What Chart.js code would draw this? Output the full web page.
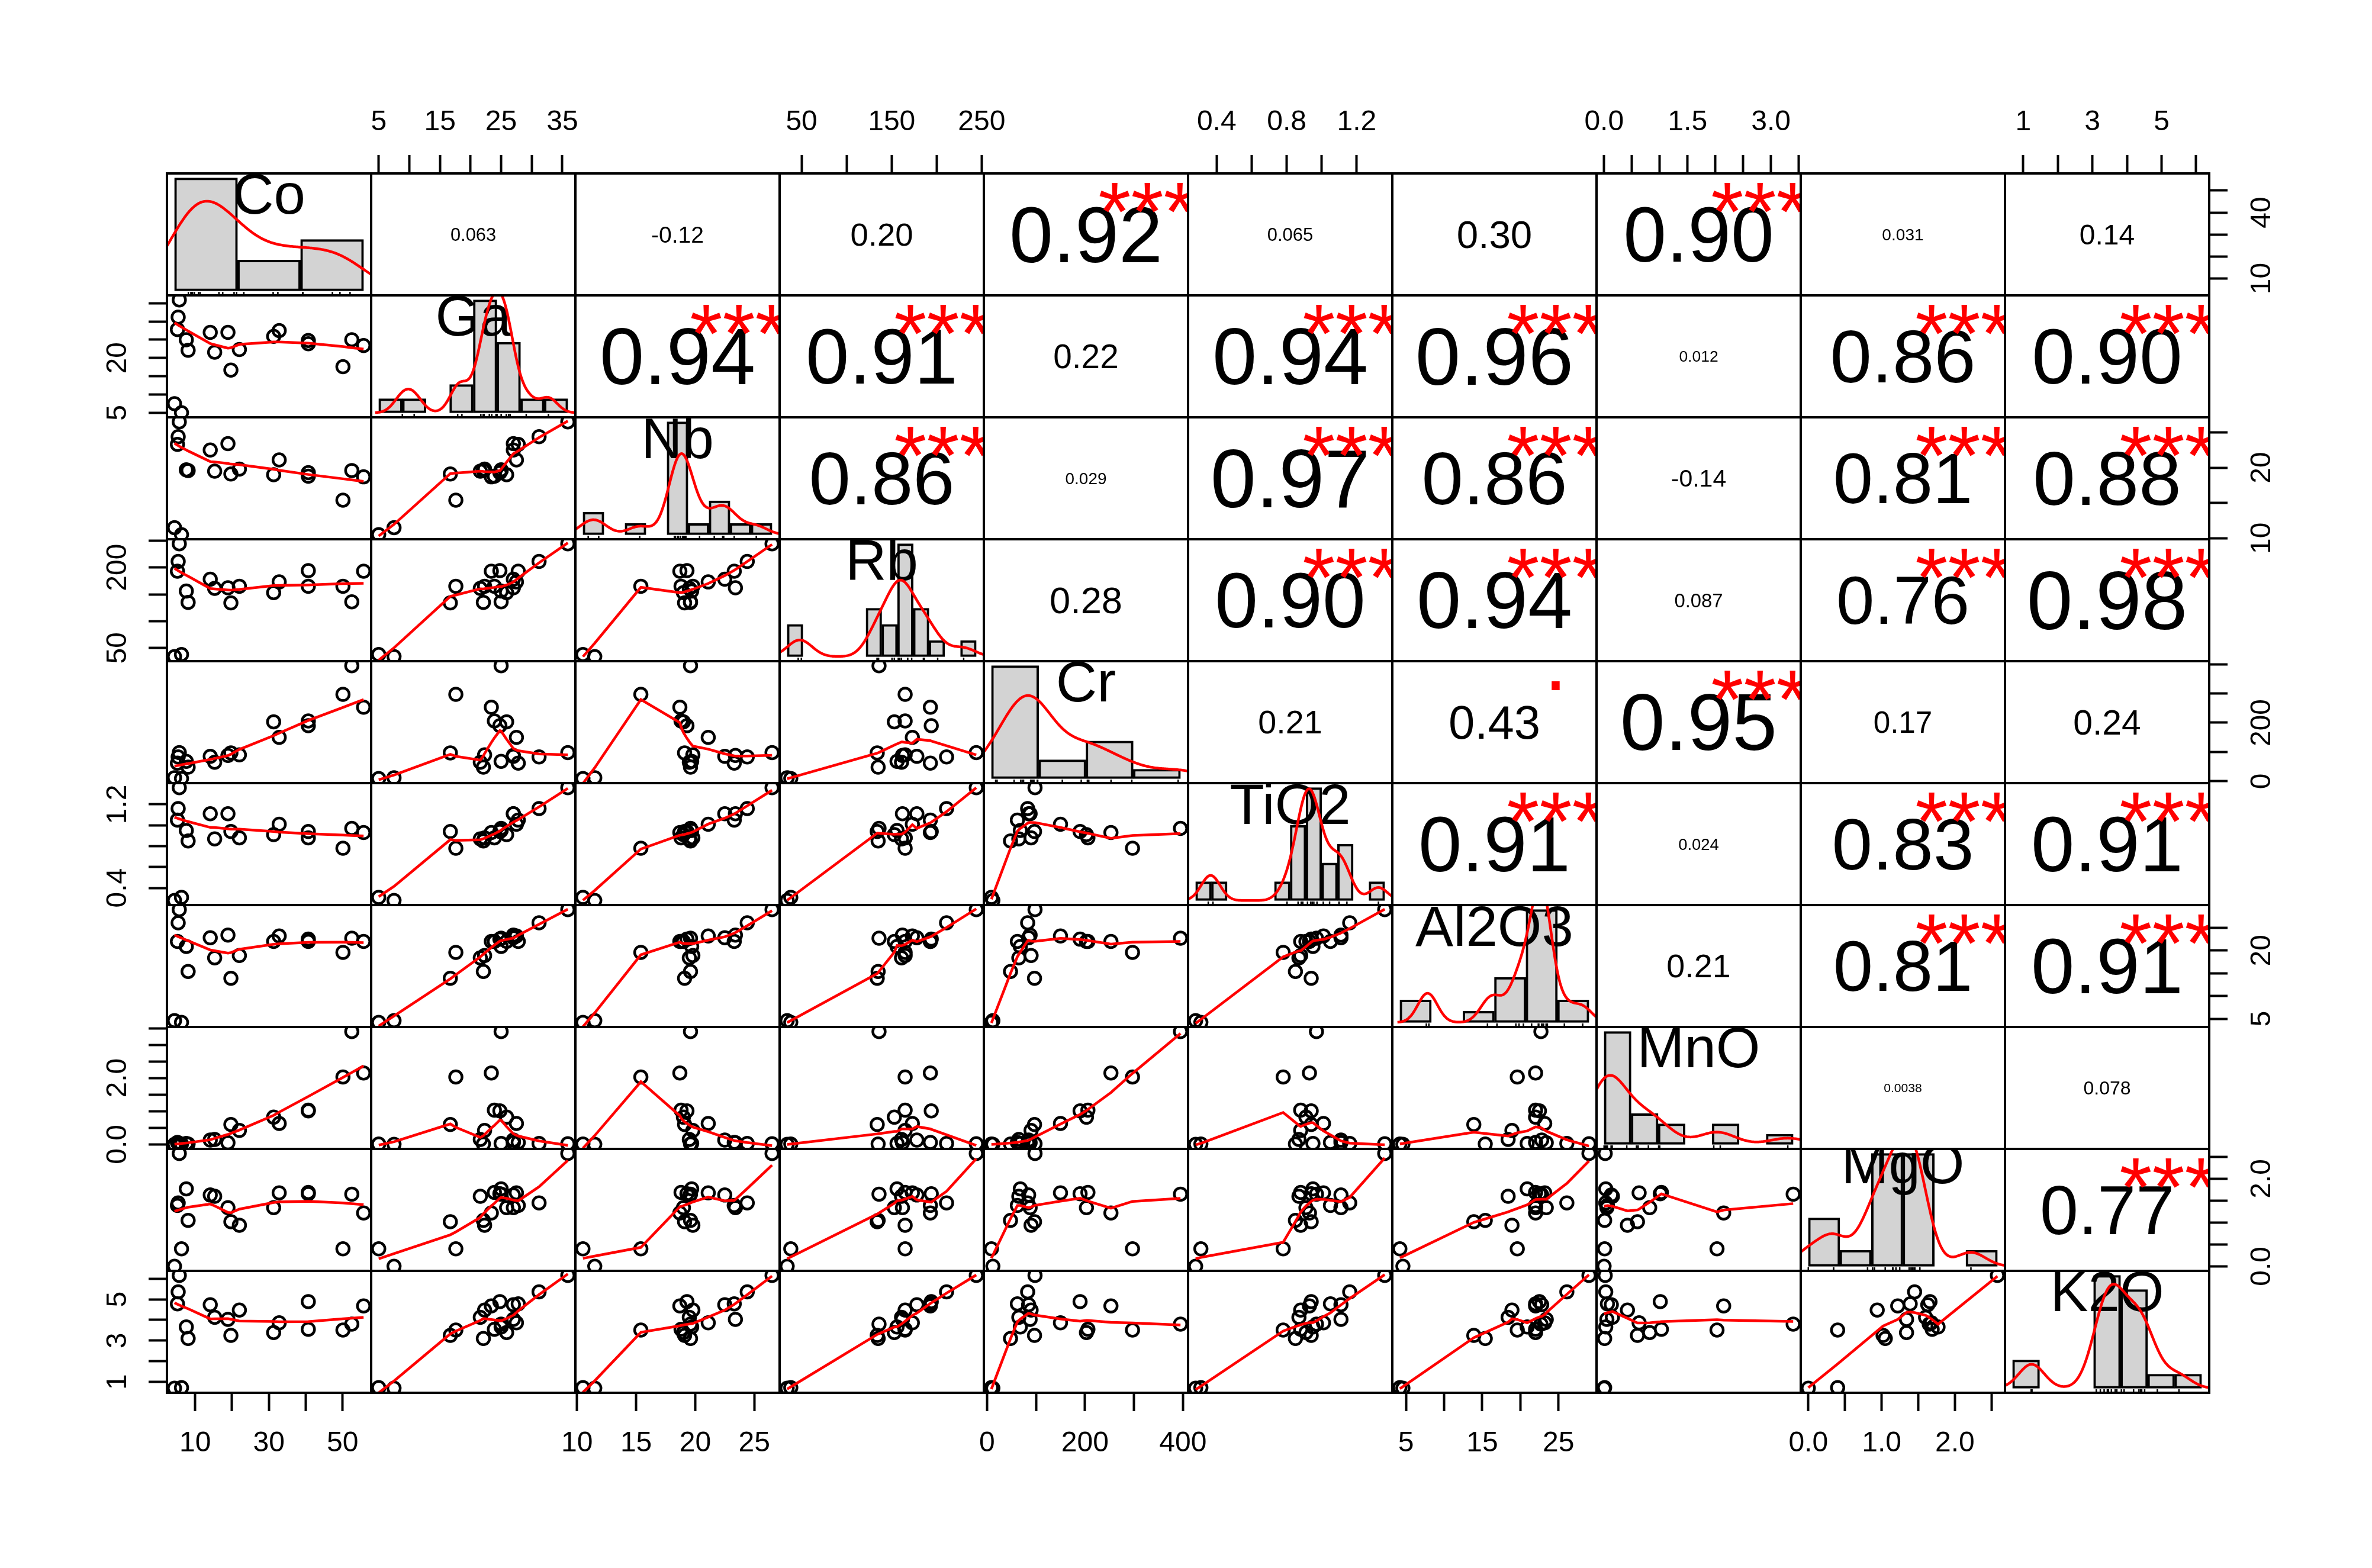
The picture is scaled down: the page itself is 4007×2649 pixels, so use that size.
<!DOCTYPE html>
<html>
<head>
<meta charset="utf-8">
<script src="https://cdn.jsdelivr.net/npm/chart.js@4.4.1/dist/chart.umd.min.js"></script>
<style>
  html, body { margin: 0; padding: 0; background: #fff; }
  #wrap { position: relative; width: 4007px; height: 2649px; overflow: hidden; background: #fff; }
  #wrap canvas { position: absolute; }
</style>
</head>
<body>
<div id="wrap"></div>
<script>
const varNames = ["Co", "Ga", "Nb", "Rb", "Cr", "TiO2", "Al2O3", "MnO", "MgO", "K2O"];

// 19 samples
const co    = [5.7, 5.4, 5.2, 7.6, 8.1, 14.1, 15.3, 18.9, 19.7, 22.0, 31.3, 32.8, 40.7, 40.7, 50.1, 52.5, 55.7, 4.4, 6.3];
const ga    = [35.9, 31.2, 27.8, 25.0, 22.1, 27.0, 21.6, 27.0, 16.7, 22.3, 25.9, 27.5, 24.8, 23.9, 17.6, 25.0, 23.4, 7.5, 5.0];
const nb    = [26.5, 24.4, 23.3, 19.7, 19.6, 22.5, 19.5, 23.4, 19.1, 19.8, 19.0, 21.1, 19.3, 18.8, 15.4, 19.6, 18.7, 11.5, 10.5];
const rb    = [244, 211, 193, 156, 135, 178, 161, 162, 134, 165, 153, 173, 194, 165, 165, 136, 193, 34, 38];
const cr    = [98, 83, 62, 68, 48, 85, 65, 88, 97, 90, 203, 150, 190, 206, 297, 395, 253, 12, 9];
const tio2  = [1.36, 1.16, 1.05, 0.95, 0.85, 1.11, 0.87, 1.11, 0.94, 0.88, 0.91, 1.01, 0.94, 0.88, 0.78, 0.97, 0.93, 0.28, 0.31];
const al2o3 = [29.0, 26.1, 22.0, 20.9, 15.4, 22.8, 18.4, 23.4, 13.9, 18.9, 22.0, 23.2, 22.5, 22.0, 19.6, 22.7, 22.0, 4.6, 4.2];
const mno   = [0.02, 0.03, 0.06, 0.03, 0.01, 0.13, 0.15, 0.05, 0.60, 0.42, 0.82, 0.63, 1.01, 1.03, 2.03, 3.40, 2.15, 0.00, 0.01];
const mgo   = [2.58, 1.45, 1.39, 1.77, 1.05, 1.63, 1.60, 1.34, 1.02, 0.94, 1.34, 1.68, 1.66, 1.69, 0.40, 1.65, 1.22, 0.00, 0.40];
const k2o   = [6.16, 5.36, 4.78, 3.66, 3.10, 4.74, 4.13, 4.03, 3.25, 4.48, 3.39, 3.86, 4.89, 3.55, 3.51, 3.80, 4.68, 0.69, 0.72];

// histogram breaks on the diagonal
const coBreaks    = [0, 20, 40, 60];
const gaBreaks    = [0, 5, 10, 15, 20, 25, 30, 35, 40];
const nbBreaks    = [10, 12, 14, 16, 18, 20, 22, 24, 26, 28];
const rbBreaks    = [20, 40, 60, 80, 100, 120, 140, 160, 180, 200, 220, 240, 260];
const crBreaks    = [0, 100, 200, 300, 400];
const tio2Breaks  = [0.2, 0.3, 0.4, 0.5, 0.6, 0.7, 0.8, 0.9, 1.0, 1.1, 1.2, 1.3, 1.4];
const al2o3Breaks = [0, 5, 10, 15, 20, 25, 30];
const mnoBreaks   = [0, 0.5, 1.0, 1.5, 2.0, 2.5, 3.0, 3.5];
const mgoBreaks   = [0, 0.5, 1.0, 1.5, 2.0, 2.5, 3.0];
const k2oBreaks   = [0, 1, 2, 3, 4, 5, 6, 7];

// axis ticks, and the labels R kept on horizontal / vertical axes
const coTicks    = [10, 20, 30, 40, 50];
const gaTicks    = [5, 10, 15, 20, 25, 30, 35];
const nbTicks    = [10, 15, 20, 25];
const rbTicks    = [50, 100, 150, 200, 250];
const crTicks    = [0, 100, 200, 300, 400];
const tio2Ticks  = [0.4, 0.6, 0.8, 1.0, 1.2];
const al2o3Ticks = [5, 10, 15, 20, 25];
const mnoTicks   = [0, 0.5, 1, 1.5, 2, 2.5, 3, 3.5];
const mgoTicks   = [0, 0.5, 1, 1.5, 2, 2.5];
const k2oTicks   = [1, 2, 3, 4, 5, 6];

const coLabH = ["10", "30", "50"],     coLabV = ["10", "40"];
const gaLabH = ["5", "15", "25", "35"], gaLabV = ["5", "20"];
const nbLabH = ["10", "15", "20", "25"], nbLabV = ["10", "20"];
const rbLabH = ["50", "150", "250"],   rbLabV = ["50", "200"];
const crLabH = ["0", "200", "400"],    crLabV = ["0", "200"];
const tio2LabH = ["0.4", "0.8", "1.2"], tio2LabV = ["0.4", "1.2"];
const al2o3LabH = ["5", "15", "25"],   al2o3LabV = ["5", "20"];
const mnoLabH = ["0.0", "1.5", "3.0"], mnoLabV = ["0.0", "2.0"];
const mgoLabH = ["0.0", "1.0", "2.0"], mgoLabV = ["0.0", "2.0"];
const k2oLabH = ["1", "3", "5"],       k2oLabV = ["1", "3", "5"];

// upper panels, row by row
const corrCo    = ["0.063", "-0.12", "0.20", "0.92", "0.065", "0.30", "0.90", "0.031", "0.14"];
const starsCo   = ["", "", "", "***", "", "", "***", "", ""];
const corrGa    = ["0.94", "0.91", "0.22", "0.94", "0.96", "0.012", "0.86", "0.90"];
const starsGa   = ["***", "***", "", "***", "***", "", "***", "***"];
const corrNb    = ["0.86", "0.029", "0.97", "0.86", "-0.14", "0.81", "0.88"];
const starsNb   = ["***", "", "***", "***", "", "***", "***"];
const corrRb    = ["0.28", "0.90", "0.94", "0.087", "0.76", "0.98"];
const starsRb   = ["", "***", "***", "", "***", "***"];
const corrCr    = ["0.21", "0.43", "0.95", "0.17", "0.24"];
const starsCr   = ["", ".", "***", "", ""];
const corrTiO2  = ["0.91", "0.024", "0.83", "0.91"];
const starsTiO2 = ["***", "", "***", "***"];
const corrAl2O3 = ["0.21", "0.81", "0.91"];
const starsAl2O3 = ["", "***", "***"];
const corrMnO   = ["0.0038", "0.078"];
const starsMnO  = ["", ""];
const corrMgO   = ["0.77"];
const starsMgO  = ["***"];

const vars = [co, ga, nb, rb, cr, tio2, al2o3, mno, mgo, k2o];
const breaks = [coBreaks, gaBreaks, nbBreaks, rbBreaks, crBreaks, tio2Breaks, al2o3Breaks, mnoBreaks, mgoBreaks, k2oBreaks];
const ticks = [coTicks, gaTicks, nbTicks, rbTicks, crTicks, tio2Ticks, al2o3Ticks, mnoTicks, mgoTicks, k2oTicks];
const labH = [coLabH, gaLabH, nbLabH, rbLabH, crLabH, tio2LabH, al2o3LabH, mnoLabH, mgoLabH, k2oLabH];
const labV = [coLabV, gaLabV, nbLabV, rbLabV, crLabV, tio2LabV, al2o3LabV, mnoLabV, mgoLabV, k2oLabV];
const corrRows = [corrCo, corrGa, corrNb, corrRb, corrCr, corrTiO2, corrAl2O3, corrMnO, corrMgO];
const starRows = [starsCo, starsGa, starsNb, starsRb, starsCr, starsTiO2, starsAl2O3, starsMnO, starsMgO];

const FONT = "'Liberation Sans', Arial, Helvetica, sans-serif";
const GX = 282, GY = 293, CW = 345, CH = 206;
const AX = 150, BL = 12, SIDE = 90, TL = 31, LW = 4, LAB_OFF = 86;

// R pads each axis by 4% of the data range
const lo = [], hi = [];
vars.forEach((v, k) => {
    const mn = Math.min(...v), mx = Math.max(...v), d = mx - mn;
    lo[k] = mn - 0.04 * d;
    hi[k] = mx + 0.04 * d;
});

const mctx = document.createElement("canvas").getContext("2d");
mctx.font = "48px " + FONT;
const maxNameW = Math.max(...varNames.map(s => mctx.measureText(s).width));
const namePx = 48 * Math.max(0.8, Math.min(2, 0.9 * CW / maxNameW));

function lowess(xs, ys, f, iter) {
    const n = xs.length;
    const ord = xs.map((v, i) => i).sort((a, b) => xs[a] - xs[b]);
    const x = ord.map(i => xs[i]), y = ord.map(i => ys[i]);
    const ns = Math.max(2, Math.min(n, Math.floor(f * n + 1e-7)));
    const range = x[n - 1] - x[0];
    const delta = 0.01 * range;
    const fit = new Array(n).fill(0), rw = new Array(n).fill(1), res = new Array(n).fill(0), w = new Array(n).fill(0);

    function lowest(xs0, nleft, nright, userw) {
        const h = Math.max(xs0 - x[nleft], x[nright] - xs0);
        const h9 = 0.999 * h, h1 = 0.001 * h;
        let a = 0, j = nleft;
        while (j < n) {
            w[j] = 0;
            const r = Math.abs(x[j] - xs0);
            if (r <= h9) {
                w[j] = r <= h1 ? 1 : Math.pow(1 - Math.pow(r / h, 3), 3);
                if (userw) w[j] *= rw[j];
                a += w[j];
            } else if (x[j] > xs0) break;
            j++;
        }
        const nrt = j - 1;
        if (a <= 0) return null;
        for (j = nleft; j <= nrt; j++) w[j] /= a;
        if (h > 0) {
            a = 0;
            for (j = nleft; j <= nrt; j++) a += w[j] * x[j];
            let b = xs0 - a, c = 0;
            for (j = nleft; j <= nrt; j++) c += w[j] * (x[j] - a) * (x[j] - a);
            if (Math.sqrt(c) > 0.001 * range) {
                b /= c;
                for (j = nleft; j <= nrt; j++) w[j] *= (b * (x[j] - a) + 1);
            }
        }
        let s = 0;
        for (j = nleft; j <= nrt; j++) s += w[j] * y[j];
        return s;
    }

    for (let it = 1; it <= iter + 1; it++) {
        let nleft = 0, nright = ns - 1, last = -1, i = 0;
        for (;;) {
            if (nright < n - 1) {
                const d1 = x[i] - x[nleft], d2 = x[nright + 1] - x[i];
                if (d1 > d2) { nleft++; nright++; continue; }
            }
            const v = lowest(x[i], nleft, nright, it > 1);
            fit[i] = v === null ? y[i] : v;
            if (last < i - 1) {
                const denom = x[i] - x[last];
                for (let j = last + 1; j < i; j++) {
                    const al = (x[j] - x[last]) / denom;
                    fit[j] = al * fit[i] + (1 - al) * fit[last];
                }
            }
            last = i;
            const cut = x[last] + delta;
            for (i = last + 1; i < n; i++) {
                if (x[i] > cut) break;
                if (x[i] === x[last]) { fit[i] = fit[last]; last = i; }
            }
            i = Math.max(last + 1, i - 1);
            if (last >= n - 1) break;
        }
        for (let k = 0; k < n; k++) res[k] = y[k] - fit[k];
        if (it > iter) break;
        const sc = res.reduce((s, r) => s + Math.abs(r), 0) / n;
        const ar = res.map(Math.abs).sort((p, q) => p - q);
        const m1 = Math.floor(n / 2);
        const cmad = n % 2 === 0 ? 3 * (ar[m1] + ar[m1 - 1]) : 6 * ar[m1];
        if (cmad < 1e-7 * sc) break;
        const c9 = 0.999 * cmad, c1 = 0.001 * cmad;
        for (let k = 0; k < n; k++) {
            const r = Math.abs(res[k]);
            rw[k] = r <= c1 ? 1 : r > c9 ? 0 : Math.pow(1 - (r / cmad) * (r / cmad), 2);
        }
    }
    return x.map((v, k) => ({ x: v, y: fit[k] }));
}

function densityCurve(v) {
    const n = v.length, s = v.slice().sort((a, b) => a - b);
    const mean = s.reduce((a, b) => a + b, 0) / n;
    const sd = Math.sqrt(s.reduce((a, b) => a + (b - mean) * (b - mean), 0) / (n - 1));
    const q = p => { const h = (n - 1) * p, f = Math.floor(h); return s[f] + (h - f) * (s[Math.min(f + 1, n - 1)] - s[f]); };
    let l = Math.min(sd, (q(0.75) - q(0.25)) / 1.34);
    if (!l) l = sd || Math.abs(s[0]) || 1;
    const bw = 0.9 * l * Math.pow(n, -0.2);
    const a = s[0] - 3 * bw, b = s[n - 1] + 3 * bw, out = [];
    for (let k = 0; k < 300; k++) {
        const xv = a + (b - a) * k / 299;
        let d = 0;
        for (const xi of s) d += Math.exp(-0.5 * ((xv - xi) / bw) * ((xv - xi) / bw));
        out.push({ x: xv, y: d / (n * bw * Math.sqrt(2 * Math.PI)) });
    }
    return out;
}

function histogram(v, br) {
    const counts = new Array(br.length - 1).fill(0);
    v.forEach(x => {
        for (let k = 0; k < br.length - 1; k++) {
            const inLow = k === 0 ? x >= br[0] - 1e-9 : x > br[k] + 1e-9;
            if (inLow && x <= br[k + 1] + 1e-9) { counts[k]++; break; }
        }
    });
    return counts.map((c, k) => ({ x: (br[k] + br[k + 1]) / 2, y: c / (v.length * (br[k + 1] - br[k])) }));
}

function labelFor(list, value) {
    const s = list.find(l => Math.abs(parseFloat(l) - value) < 1e-9);
    return s === undefined ? "" : s;
}

function tickGrid() {
    return { drawOnChartArea: false, drawTicks: true, tickLength: TL, tickWidth: LW, tickColor: "#000" };
}

function hAxis(k, pos) {
    const o = { type: "linear", min: lo[k], max: hi[k], display: !!pos };
    if (!pos) return o;
    return Object.assign(o, {
        position: pos,
        afterBuildTicks: s => { s.ticks = ticks[k].map(t => ({ value: t })); },
        afterFit: s => { s.height = AX; s.paddingLeft = 0; s.paddingRight = 0; },
        grid: tickGrid(),
        border: { display: false },
        ticks: {
            autoSkip: false, maxRotation: 0, minRotation: 0, padding: 26, color: "#000",
            font: { family: FONT, size: 48 },
            callback: value => labelFor(labH[k], value)
        }
    });
}

function vAxis(k, pos) {
    const o = { type: "linear", min: lo[k], max: hi[k], display: !!pos };
    if (!pos) return o;
    return Object.assign(o, {
        position: pos,
        afterBuildTicks: s => { s.ticks = ticks[k].map(t => ({ value: t })); },
        afterFit: s => { s.width = AX; s.paddingTop = 0; s.paddingBottom = 0; },
        grid: tickGrid(),
        border: { display: false },
        ticks: { display: false }
    });
}

function inkText(ctx, s, cx, cy, size, color) {
    ctx.font = size + "px " + FONT;
    ctx.fillStyle = color;
    ctx.textAlign = "center";
    ctx.textBaseline = "alphabetic";
    const m = ctx.measureText(s);
    ctx.fillText(s, cx, cy + (m.actualBoundingBoxAscent - m.actualBoundingBoxDescent) / 2);
}

function clipArea(ctx, a) {
    ctx.beginPath();
    ctx.rect(a.left, a.top, a.right - a.left, a.bottom - a.top);
    ctx.clip();
}

function drawCorr(chart, txt, star) {
    const a = chart.chartArea, ctx = chart.ctx;
    const W = a.right - a.left, H = a.bottom - a.top;
    ctx.save();
    clipArea(ctx, a);
    ctx.font = "100px " + FONT;
    const w100 = ctx.measureText(txt).width;
    const emStar = 0.8 * W * 100 / w100;
    const r = Math.abs(parseFloat(txt));
    inkText(ctx, txt, a.left + 0.5 * W, a.bottom - 0.5 * H, emStar * (r + 0.3) / 1.3, "#000");
    if (star) inkText(ctx, star, a.left + 0.8 * W, a.bottom - 0.8 * H, emStar, "#ff0000");
    ctx.restore();
}

function drawName(chart, name) {
    const a = chart.chartArea, ctx = chart.ctx;
    ctx.save();
    clipArea(ctx, a);
    inkText(ctx, name, (a.left + a.right) / 2, a.bottom - 0.833 * (a.bottom - a.top), namePx, "#000");
    ctx.restore();
}

function drawVLabels(chart, k, side) {
    const a = chart.chartArea, ctx = chart.ctx, sc = chart.scales.y;
    ctx.save();
    ctx.font = "48px " + FONT;
    ctx.fillStyle = "#000";
    ctx.textAlign = "center";
    ctx.textBaseline = "alphabetic";
    labV[k].forEach(s => {
        const py = sc.getPixelForValue(parseFloat(s));
        const px = side === "left" ? a.left - LAB_OFF : a.right + LAB_OFF;
        const m = ctx.measureText(s);
        ctx.save();
        ctx.translate(px, py);
        ctx.rotate(-Math.PI / 2);
        ctx.fillText(s, 0, (m.actualBoundingBoxAscent - m.actualBoundingBoxDescent) / 2);
        ctx.restore();
    });
    ctx.restore();
}

function drawBox(chart) {
    const a = chart.chartArea, ctx = chart.ctx;
    ctx.save();
    ctx.lineWidth = LW;
    ctx.strokeStyle = "#000";
    ctx.strokeRect(a.left, a.top, a.right - a.left, a.bottom - a.top);
    ctx.restore();
}

const wrap = document.getElementById("wrap");

function makeCell(i, j) {
    const top = i === 0 && j % 2 === 1, bottom = i === 9 && j % 2 === 0;
    const left = j === 0 && i % 2 === 1, right = j === 9 && i % 2 === 0;
    // room for labels that hang past the panel ends
    const hb = (top || bottom) ? SIDE : BL, vb = (left || right) ? SIDE : BL;
    const bt = top ? AX : vb, bb = bottom ? AX : vb, bl = left ? AX : hb, br = right ? AX : hb;

    const cv = document.createElement("canvas");
    cv.width = CW + bl + br;
    cv.height = CH + bt + bb;
    cv.style.left = (GX + j * CW - bl) + "px";
    cv.style.top = (GY + i * CH - bt) + "px";
    wrap.appendChild(cv);

    const padding = { top: top ? 0 : bt, bottom: bottom ? 0 : bb, left: left ? 0 : bl, right: right ? 0 : br };
    const common = {
        responsive: false,
        animation: false,
        events: [],
        layout: { padding: padding, autoPadding: false },
        plugins: { legend: { display: false }, tooltip: { enabled: false } }
    };

    const plugin = {
        id: "panel",
        afterDatasetDraw(chart, args) {
            if (i === j && args.index === 2) drawName(chart, varNames[i]);
        },
        afterDraw(chart) {
            if (i < j) drawCorr(chart, corrRows[i][j - i - 1], starRows[i][j - i - 1]);
            if (left) drawVLabels(chart, i, "left");
            if (right) drawVLabels(chart, i, "right");
            drawBox(chart);
        }
    };

    if (i === j) {
        const v = vars[i], b = breaks[i];
        const hist = histogram(v, b);
        const maxD = Math.max(...hist.map(p => p.y));
        const span = b[b.length - 1] - b[0];
        const yMin = -0.04 * maxD;
        new Chart(cv, {
            type: "bar",
            data: {
                datasets: [
                    { type: "line", data: densityCurve(v), borderColor: "#ff0000", borderWidth: 4.5, pointRadius: 0, fill: false, tension: 0 },
                    { type: "scatter", data: v.map(x => ({ x: x, y: yMin })), pointStyle: "line", pointRotation: 90, pointRadius: 6, pointBorderWidth: 2.5, pointBorderColor: "#000" },
                    { type: "bar", data: hist, backgroundColor: "#d3d3d3", borderColor: "#000", borderWidth: 4, borderSkipped: false, categoryPercentage: 1, barPercentage: 1 }
                ]
            },
            options: Object.assign(common, {
                scales: {
                    x: { type: "linear", offset: false, grid: { offset: false }, display: false,
                         min: b[0] - 0.04 * span, max: b[b.length - 1] + 0.04 * span,
                         afterBuildTicks: s => { s.ticks = b.map(t => ({ value: t })); } },
                    y: { type: "linear", display: false, min: yMin, max: 1.04 * maxD }
                }
            }),
            plugins: [plugin]
        });
        return;
    }

    const scales = {
        x: hAxis(j, top ? "top" : bottom ? "bottom" : null),
        y: vAxis(i, left ? "left" : right ? "right" : null)
    };
    let datasets = [];
    if (i > j) {
        const pts = vars[j].map((x, k) => ({ x: x, y: vars[i][k] }));
        datasets = [
            { type: "line", data: lowess(vars[j], vars[i], 2 / 3, 3), borderColor: "#ff0000", borderWidth: 4.5, pointRadius: 0, fill: false, tension: 0 },
            { type: "scatter", data: pts, pointStyle: "circle", pointRadius: 10.5, pointBorderWidth: 4.5, pointBorderColor: "#000", pointBackgroundColor: "rgba(0,0,0,0)" }
        ];
    }
    new Chart(cv, {
        type: "scatter",
        data: { datasets: datasets },
        options: Object.assign(common, { scales: scales }),
        plugins: [plugin]
    });
}

for (let i = 0; i < 10; i++) {
    for (let j = 0; j < 10; j++) makeCell(i, j);
}
</script>
</body>
</html>
